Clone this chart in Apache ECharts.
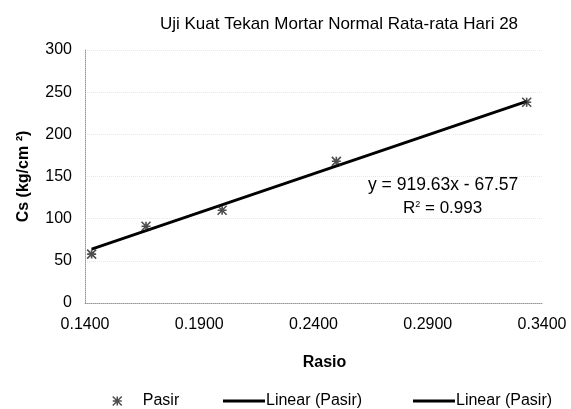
<!DOCTYPE html>
<html><head><meta charset="utf-8">
<script src="https://cdn.jsdelivr.net/npm/echarts@6/dist/echarts.min.js"></script>
<style>html,body{margin:0;padding:0;background:#fff}#c{width:571px;height:409px}</style>
</head><body><div id="c"></div>
<script>
var rasio = [0.1429, 0.1667, 0.2000, 0.2500, 0.3333];
var cs = [58, 91, 110, 168, 238];
var trendX = [0.1429, 0.3333];
var trendY = [63.8, 239.0];
var xTicks = [0.14, 0.19, 0.24, 0.29, 0.34];
var yTicks = [0, 50, 100, 150, 200, 250, 300];
var title = 'Uji Kuat Tekan Mortar Normal Rata-rata Hari 28';
var eqText = 'y = 919.63x - 67.57';
var r2Text = '0.993';

var star = 'path://M0,0L10,10M10,0L0,10M5,0L5,10M0,5L10,5';
var F = 'Liberation Sans, Arial, sans-serif';
var chart = echarts.init(document.getElementById('c'));
var lineLegend = function(name, left){
  return {data: [{name: name, icon: 'rect'}], left: left, top: 388,
    itemWidth: 42, itemHeight: 3, itemGap: 0,
    formatter: function(){return 'Linear (Pasir)';},
    textStyle: {fontSize: 16, color: '#000', fontFamily: F, padding: [0,0,0,-4]}};
};
chart.setOption({
  animation: false,
  textStyle: {fontFamily: F},
  title: {text: title, left: 334, top: 11, textAlign: 'center',
    textStyle: {fontSize: 17, fontWeight: 'normal', color: '#000', fontFamily: F}},
  grid: {left: 85, right: 29, top: 50, bottom: 106},
  xAxis: {type: 'value', min: xTicks[0], max: xTicks[xTicks.length-1], interval: 0.05,
    name: 'Rasio', nameLocation: 'middle', nameGap: 52,
    nameTextStyle: {fontSize: 16, fontWeight: 'bold', color: '#000', padding: [0,0,0,22]},
    axisLine: {lineStyle: {color: '#999', type: 'dotted'}},
    axisTick: {show: false},
    splitLine: {show: false},
    axisLabel: {fontSize: 16, color: '#000', margin: 14, formatter: function(v){return v.toFixed(4);}}},
  yAxis: {type: 'value', min: yTicks[0], max: yTicks[yTicks.length-1], interval: 50,
    name: 'Cs (kg/cm ²)', nameLocation: 'middle', nameGap: 53, nameRotate: 90,
    nameTextStyle: {fontSize: 16, fontWeight: 'bold', color: '#000'},
    axisLine: {show: true, lineStyle: {color: '#999', type: 'dotted'}},
    axisTick: {show: false},
    splitLine: {show: true, lineStyle: {color: '#e8e8e8', type: 'dotted'}},
    axisLabel: {fontSize: 16, color: '#000', margin: 13}},
  legend: [{
    data: [{name: 'Pasir', icon: star}], left: 107, top: 388,
    itemWidth: 9, itemHeight: 9, itemGap: 0,
    itemStyle: {color: 'transparent', borderColor: '#222', borderWidth: 1.5},
    textStyle: {fontSize: 16, color: '#000', fontFamily: F, padding: [0,0,0,16]}
  }, lineLegend('Linear (Pasir)', 218), lineLegend('Linear (Pasir) 2', 408)],
  series: [{
    name: 'Pasir', type: 'scatter', symbol: star, symbolSize: 9,
    itemStyle: {color: 'transparent', borderColor: '#222', borderWidth: 1.6},
    data: rasio.map(function(x,i){return [x, cs[i]];}), z: 3
  }, {
    name: 'Linear (Pasir)', type: 'line', showSymbol: false,
    lineStyle: {color: '#000', width: 2.8}, itemStyle: {color: '#000'},
    data: trendX.map(function(x,i){return [x, trendY[i]];})
  }, {
    name: 'Linear (Pasir) 2', type: 'line', showSymbol: false,
    lineStyle: {color: '#000', width: 2.8}, itemStyle: {color: '#000'},
    data: []
  }],
  graphic: [{
    type: 'text', left: 368, top: 176,
    style: {text: eqText, font: '17.5px ' + F, fill: '#000'}
  }, {
    type: 'text', left: 403, top: 200,
    style: {text: '{a|R}{s|2}{a| = ' + r2Text + '}', rich: {
      a: {fontSize: 17, fontFamily: F, color: '#000'},
      s: {fontSize: 9, fontFamily: F, color: '#000', verticalAlign: 'top', padding: [0,0,8,0]}}}
  }]
});
</script></body></html>
